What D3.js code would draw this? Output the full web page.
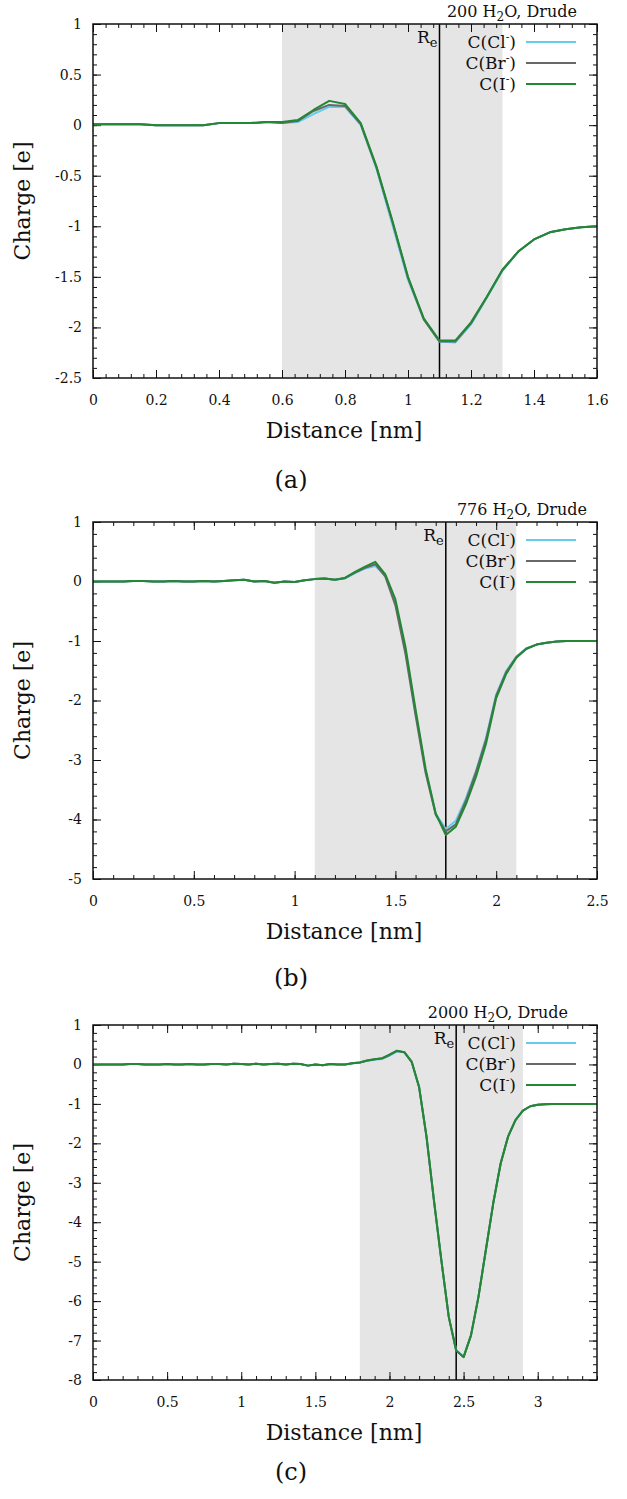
<!DOCTYPE html>
<html>
<head>
<meta charset="utf-8">
<script src="https://cdn.jsdelivr.net/npm/d3@7"></script>
<style>
  body { margin: 0; background: #fff; }
  svg { display: block; }
  text { font-family: "DejaVu Serif", serif; fill: #111; }
</style>
</head>
<body>
<svg id="chart" width="627" height="1499"></svg>
<script>
  // ---- panel (a): 200 H2O ----
  var distA = [0,0.05,0.1,0.15,0.2,0.25,0.3,0.35,0.4,0.45,0.5,0.55,0.6,0.65,0.7,0.75,0.8,0.85,0.9,0.95,
               1,1.05,1.1,1.15,1.2,1.25,1.3,1.35,1.4,1.45,1.5,1.55,1.6];
  var clA = [0.01,0.01,0.01,0.01,0,0,0,0,0.02,0.02,0.02,0.03,0.02,0.03,0.11,0.18,0.18,0,-0.43,-0.98,
             -1.53,-1.92,-2.14,-2.15,-1.97,-1.71,-1.44,-1.25,-1.13,-1.06,-1.03,-1.01,-1];
  var brA = [0.01,0.01,0.01,0.01,0,0,0,0,0.02,0.02,0.02,0.03,0.02,0.04,0.14,0.2,0.19,0.01,-0.42,-0.95,
             -1.51,-1.92,-2.14,-2.14,-1.96,-1.7,-1.43,-1.25,-1.13,-1.06,-1.03,-1.01,-1];
  var iA  = [0.01,0.01,0.01,0.01,0,0,0,0,0.02,0.02,0.02,0.03,0.03,0.05,0.15,0.24,0.21,0.02,-0.41,-0.94,
             -1.5,-1.91,-2.13,-2.13,-1.95,-1.7,-1.43,-1.25,-1.13,-1.06,-1.03,-1.01,-1];
  var xTicksA = [0,0.2,0.4,0.6,0.8,1,1.2,1.4,1.6];
  var yTicksA = [-2.5,-2,-1.5,-1,-0.5,0,0.5,1];

  // ---- panel (b): 776 H2O ----
  var distB = [0,0.05,0.1,0.15,0.2,0.25,0.3,0.35,0.4,0.45,0.5,0.55,0.6,0.65,0.7,0.75,0.8,0.85,0.9,0.95,
               1,1.05,1.1,1.15,1.2,1.25,1.3,1.35,1.4,1.45,1.5,1.55,1.6,1.65,1.7,1.75,1.8,1.85,1.9,1.95,
               2,2.05,2.1,2.15,2.2,2.25,2.3,2.35,2.4,2.45,2.5];
  var clB = [0,0,0,0,0.01,0.01,0,0,0.01,0,0,0.01,0,0.01,0.02,0.03,0,0.01,-0.02,0,
             -0.01,0.02,0.04,0.05,0.03,0.05,0.14,0.22,0.26,0.1,-0.35,-1.16,-2.2,-3.18,-3.9,-4.16,-4.02,-3.64,-3.18,-2.62,
             -1.9,-1.5,-1.26,-1.12,-1.06,-1.03,-1.01,-1,-1,-1,-1];
  var brB = [0,0,0,0,0.01,0.01,0,0,0.01,0,0,0.01,0,0.01,0.02,0.03,0,0.01,-0.02,0,
             -0.01,0.02,0.04,0.05,0.03,0.06,0.15,0.23,0.29,0.08,-0.4,-1.22,-2.25,-3.22,-3.92,-4.2,-4.08,-3.68,-3.2,-2.65,
             -1.92,-1.52,-1.27,-1.13,-1.06,-1.03,-1.01,-1,-1,-1,-1];
  var iB  = [0,0,0,0,0.01,0.01,0,0,0.01,0,0,0.01,0,0.01,0.02,0.03,0,0.01,-0.02,0,
             -0.01,0.02,0.04,0.05,0.03,0.06,0.16,0.25,0.33,0.12,-0.3,-1.1,-2.15,-3.15,-3.9,-4.26,-4.12,-3.74,-3.28,-2.72,
             -1.96,-1.55,-1.28,-1.13,-1.06,-1.03,-1.01,-1,-1,-1,-1];
  var xTicksB = [0,0.5,1,1.5,2,2.5];
  var yTicksB = [-5,-4,-3,-2,-1,0,1];

  // ---- panel (c): 2000 H2O ----
  var distC = [0,0.05,0.1,0.15,0.2,0.25,0.3,0.35,0.4,0.45,0.5,0.55,0.6,0.65,0.7,0.75,0.8,0.85,0.9,0.95,
               1,1.05,1.1,1.15,1.2,1.25,1.3,1.35,1.4,1.45,1.5,1.55,1.6,1.65,1.7,1.75,1.8,1.85,1.9,1.95,
               2,2.05,2.1,2.15,2.2,2.25,2.3,2.35,2.4,2.45,2.5,2.55,2.6,2.65,2.7,2.75,2.8,2.85,2.9,2.95,
               3,3.05,3.1,3.15,3.2,3.25,3.3,3.35,3.4];
  var clC = [0,0,0,0,0,0.01,0.01,0,0,0,0.01,0,0,0.01,0,0,0.01,0.01,0,0.02,
             0.01,0,0.02,0,0.01,0.02,0,0.02,0.01,-0.03,0,-0.02,0.01,0,0,0.03,0.05,0.09,0.12,0.14,
             0.22,0.33,0.31,0.06,-0.58,-1.84,-3.45,-4.97,-6.4,-7.24,-7.41,-6.86,-5.9,-4.71,-3.52,-2.51,-1.83,-1.41,-1.17,-1.06,
             -1.02,-1.01,-1,-1,-1,-1,-1,-1,-1];
  var brC = [0,0,0,0,0,0.01,0.01,0,0,0,0.01,0,0,0.01,0,0,0.01,0.01,0,0.02,
             0.01,0,0.02,0,0.01,0.02,0,0.02,0.01,-0.03,0,-0.02,0.01,0,0,0.03,0.05,0.1,0.13,0.15,
             0.24,0.34,0.31,0.06,-0.58,-1.84,-3.45,-4.97,-6.4,-7.25,-7.42,-6.87,-5.9,-4.71,-3.52,-2.51,-1.83,-1.41,-1.17,-1.06,
             -1.02,-1.01,-1,-1,-1,-1,-1,-1,-1];
  var iC  = [0,0,0,0,0,0.01,0.01,0,0,0,0.01,0,0,0.01,0,0,0.01,0.01,0,0.02,
             0.01,0,0.02,0,0.01,0.02,0,0.02,0.01,-0.03,0,-0.02,0.01,0,0,0.03,0.05,0.1,0.13,0.16,
             0.25,0.35,0.31,0.07,-0.57,-1.83,-3.44,-4.96,-6.4,-7.25,-7.42,-6.87,-5.9,-4.71,-3.52,-2.51,-1.83,-1.41,-1.17,-1.06,
             -1.02,-1.01,-1,-1,-1,-1,-1,-1,-1];
  var xTicksC = [0,0.5,1,1.5,2,2.5,3];
  var yTicksC = [-8,-7,-6,-5,-4,-3,-2,-1,0,1];

  var seriesNames = ["Cl", "Br", "I"];
  var colors = { Cl: "#66ccee", Br: "#686868", I: "#228833" };

  var left = 93, right = 597;

  var panels = [
    { dist: distA, vals: { Cl: clA, Br: brA, I: iA }, xMax: 1.6, yDom: [-2.5, 1],
      xTicks: xTicksA, yTicks: yTicksA, xMinor: 0.04, yMinor: 0.1,
      shade: [0.6, 1.3], re: 1.1, nWater: "200", titleX: 577,
      top: 24, bottom: 378, caption: "(a)", capY: 488 },
    { dist: distB, vals: { Cl: clB, Br: brB, I: iB }, xMax: 2.5, yDom: [-5, 1],
      xTicks: xTicksB, yTicks: yTicksB, xMinor: 0.1, yMinor: 0.2,
      shade: [1.1, 2.1], re: 1.75, nWater: "776", titleX: 587,
      top: 522, bottom: 879, caption: "(b)", capY: 986 },
    { dist: distC, vals: { Cl: clC, Br: brC, I: iC }, xMax: 3.4, yDom: [-8, 1],
      xTicks: xTicksC, yTicks: yTicksC, xMinor: 0.1, yMinor: 0.2,
      shade: [1.8, 2.9], re: 2.45, nWater: "2000", titleX: 568,
      top: 1025, bottom: 1380, caption: "(c)", capY: 1480 }
  ];

  var svg = d3.select("#chart");
  var fmt = function(d) { return String(+d.toFixed(2)); };

  panels.forEach(function(p) {
    var x = d3.scaleLinear().domain([0, p.xMax]).range([left, right]);
    var y = d3.scaleLinear().domain(p.yDom).range([p.bottom, p.top]);
    var g = svg.append("g");
    var xMin = d3.range(0, p.xMax + 1e-6, p.xMinor);
    var yMin = d3.range(p.yDom[0], p.yDom[1] + 1e-6, p.yMinor);

    // shaded region
    g.append("rect")
      .attr("x", x(p.shade[0])).attr("y", p.top)
      .attr("width", x(p.shade[1]) - x(p.shade[0]))
      .attr("height", p.bottom - p.top)
      .attr("fill", "#e5e5e5");

    // ticks, pointing inward on all sides
    function addAxis(axis, tx, ty, labels) {
      var a = g.append("g").attr("transform", "translate(" + tx + "," + ty + ")").call(axis);
      a.select(".domain").remove();
      a.selectAll("line").attr("stroke", "#111").attr("stroke-width", 1);
      if (labels) a.selectAll("text").style("font-family", "DejaVu Serif").style("font-size", "14px").attr("fill", "#111");
      return a;
    }
    addAxis(d3.axisBottom(x).tickValues(xMin).tickSize(-4).tickFormat(""), 0, p.bottom);
    addAxis(d3.axisTop(x).tickValues(xMin).tickSize(-4).tickFormat(""), 0, p.top);
    addAxis(d3.axisLeft(y).tickValues(yMin).tickSize(-4).tickFormat(""), left, 0);
    addAxis(d3.axisRight(y).tickValues(yMin).tickSize(-4).tickFormat(""), right, 0);
    addAxis(d3.axisBottom(x).tickValues(p.xTicks).tickSize(-8).tickPadding(17).tickFormat(fmt), 0, p.bottom, true);
    addAxis(d3.axisTop(x).tickValues(p.xTicks).tickSize(-8).tickFormat(""), 0, p.top);
    addAxis(d3.axisLeft(y).tickValues(p.yTicks).tickSize(-8).tickPadding(11).tickFormat(fmt), left, 0, true);
    addAxis(d3.axisRight(y).tickValues(p.yTicks).tickSize(-8).tickFormat(""), right, 0);

    // R_e line
    g.append("line")
      .attr("x1", x(p.re)).attr("x2", x(p.re))
      .attr("y1", p.top).attr("y2", p.bottom)
      .attr("stroke", "#000").attr("stroke-width", 1.5);
    var re = g.append("text")
      .attr("x", x(p.re) - 2).attr("y", p.top + 19)
      .attr("text-anchor", "end").style("font-size", "17px");
    re.append("tspan").text("R");
    re.append("tspan").attr("dy", 4).style("font-size", "13px").text("e");

    // curves
    seriesNames.forEach(function(s) {
      var line = d3.line()
        .x(function(d, i) { return x(p.dist[i]); })
        .y(function(d) { return y(d); });
      g.append("path")
        .datum(p.vals[s])
        .attr("d", line)
        .attr("fill", "none")
        .attr("stroke", colors[s])
        .attr("stroke-width", 2)
        .attr("stroke-linejoin", "round");
    });

    // frame
    g.append("rect")
      .attr("x", left).attr("y", p.top)
      .attr("width", right - left).attr("height", p.bottom - p.top)
      .attr("fill", "none").attr("stroke", "#111").attr("stroke-width", 1.5);

    // legend
    seriesNames.forEach(function(s, i) {
      var ly = p.top + 18 + i * 21;
      var t = g.append("text").attr("x", 516).attr("y", ly + 6)
        .attr("text-anchor", "end").style("font-size", "17px");
      t.append("tspan").text("C(" + s);
      t.append("tspan").attr("dy", -7).style("font-size", "11px").text("-");
      t.append("tspan").attr("dy", 7).text(")");
      g.append("line")
        .attr("x1", 526).attr("x2", 576).attr("y1", ly).attr("y2", ly)
        .attr("stroke", colors[s]).attr("stroke-width", 2);
    });

    // title above plot
    var tt = g.append("text").attr("x", p.titleX).attr("y", p.top - 7)
      .attr("text-anchor", "end").style("font-size", "16px");
    tt.append("tspan").text(p.nWater + " H");
    tt.append("tspan").attr("dy", 4).style("font-size", "12px").text("2");
    tt.append("tspan").attr("dy", -4).text("O, Drude");

    // axis titles
    g.append("text")
      .attr("x", (left + right) / 2 - 1).attr("y", p.bottom + 60)
      .attr("text-anchor", "middle").style("font-size", "22px")
      .text("Distance [nm]");
    g.append("text")
      .attr("transform", "translate(30," + ((p.top + p.bottom) / 2) + ") rotate(-90)")
      .attr("text-anchor", "middle").style("font-size", "22px")
      .text("Charge [e]");

    // caption
    g.append("text")
      .attr("x", 291).attr("y", p.capY)
      .attr("text-anchor", "middle").style("font-size", "24px")
      .text(p.caption);
  });
</script>
</body>
</html>
